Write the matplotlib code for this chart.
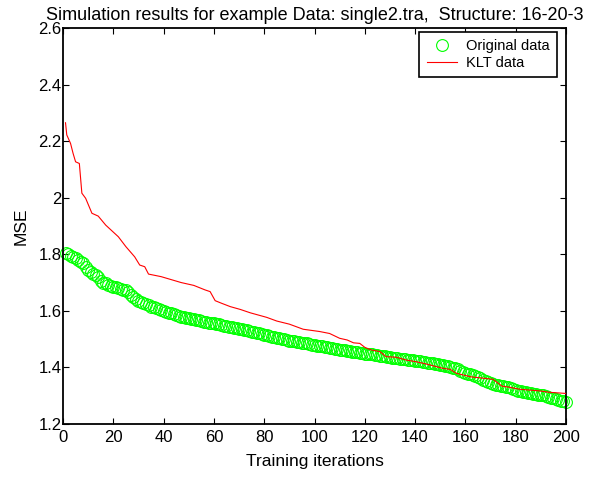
import matplotlib
matplotlib.use("Agg")
import matplotlib.pyplot as plt
import numpy as np

plt.rcParams['font.family'] = ['Liberation Sans', 'DejaVu Sans']

# Original data (green circles), iterations 1..200
original_mse = [
    1.803, 1.800, 1.795, 1.790, 1.786, 1.780, 1.774, 1.768, 1.756, 1.744,
    1.738, 1.732, 1.727, 1.718, 1.707, 1.700, 1.697, 1.693, 1.689, 1.686,
    1.684, 1.681, 1.678, 1.675, 1.672, 1.665, 1.657, 1.650, 1.642, 1.636,
    1.632, 1.628, 1.624, 1.619, 1.615, 1.612, 1.609, 1.606, 1.603, 1.600,
    1.597, 1.594, 1.591, 1.588, 1.585, 1.582, 1.580, 1.578, 1.576, 1.574,
    1.572, 1.570, 1.568, 1.566, 1.564, 1.562, 1.560, 1.558, 1.557, 1.556,
    1.554, 1.552, 1.550, 1.548, 1.546, 1.544, 1.542, 1.540, 1.538, 1.536,
    1.535, 1.533, 1.532, 1.530, 1.527, 1.525, 1.522, 1.520, 1.518, 1.515,
    1.513, 1.510, 1.508, 1.506, 1.504, 1.503, 1.501, 1.499, 1.497, 1.495,
    1.494, 1.492, 1.490, 1.489, 1.487, 1.486, 1.485, 1.484, 1.481, 1.479,
    1.477, 1.475, 1.474, 1.472, 1.471, 1.469, 1.468, 1.466, 1.465, 1.463,
    1.462, 1.460, 1.459, 1.457, 1.456, 1.454, 1.453, 1.451, 1.450, 1.449,
    1.448, 1.447, 1.446, 1.445, 1.443, 1.442, 1.440, 1.439, 1.437, 1.436,
    1.434, 1.433, 1.432, 1.431, 1.430, 1.429, 1.427, 1.426, 1.425, 1.424,
    1.422, 1.421, 1.420, 1.418, 1.417, 1.415, 1.414, 1.412, 1.411, 1.409,
    1.408, 1.406, 1.404, 1.401, 1.399, 1.397, 1.393, 1.389, 1.385, 1.381,
    1.378, 1.375, 1.373, 1.370, 1.366, 1.362, 1.357, 1.352, 1.347, 1.344,
    1.341, 1.339, 1.337, 1.335, 1.333, 1.332, 1.330, 1.327, 1.324, 1.321,
    1.318, 1.316, 1.314, 1.312, 1.310, 1.308, 1.306, 1.305, 1.304, 1.303,
    1.301, 1.298, 1.295, 1.293, 1.291, 1.288, 1.285, 1.283, 1.281, 1.279,
]
original_iter = list(range(1, 201))

# KLT data (red line), vertices
klt_iter = [1, 1.5, 3, 4, 5, 6.5, 7.5, 9, 11.5, 14, 17, 22, 25, 28.5, 30.5, 32.5,
            34, 39, 47, 52, 56.5, 58.5, 60.5, 63, 66.5, 70.5, 74.5, 81, 85, 90,
            95.5, 102, 106, 110, 113, 115.5, 118, 120, 122.5, 126, 128.5, 132.5,
            136.5, 140.5, 144.5, 147.5, 151, 154, 156.5, 162, 167, 171, 174.5,
            177.5, 181.5, 185.5, 189.5, 193.5, 200]
klt_mse = [2.265, 2.222, 2.192, 2.157, 2.127, 2.121, 2.016, 1.998, 1.945, 1.935,
           1.903, 1.862, 1.827, 1.791, 1.762, 1.756, 1.730, 1.721, 1.700, 1.690,
           1.674, 1.668, 1.636, 1.627, 1.615, 1.605, 1.593, 1.577, 1.564, 1.553,
           1.535, 1.527, 1.520, 1.503, 1.497, 1.487, 1.485, 1.471, 1.462, 1.456,
           1.438, 1.436, 1.426, 1.420, 1.412, 1.405, 1.397, 1.393, 1.379, 1.367,
           1.362, 1.358, 1.334, 1.330, 1.323, 1.320, 1.317, 1.312, 1.308]

x_ticks = [0, 20, 40, 60, 80, 100, 120, 140, 160, 180, 200]
y_ticks = [1.2, 1.4, 1.6, 1.8, 2.0, 2.2, 2.4, 2.6]
y_ticklabels = ['1.2', '1.4', '1.6', '1.8', '2', '2.2', '2.4', '2.6']

fig = plt.figure(figsize=(5.98, 4.78), dpi=100)
ax = fig.add_axes([63/598, 1 - 424/478, (566-63)/598, (424-28)/478])

ax.plot(original_iter, original_mse, linestyle='none', marker='o', markersize=8.5,
        markerfacecolor='none', markeredgecolor=(0, 1, 0), markeredgewidth=0.8,
        label='Original data', clip_on=False, zorder=2)
ax.plot(klt_iter, klt_mse, color=(1, 0, 0), linewidth=0.8, label='KLT data', zorder=3)

ax.set_xlim(0, 200)
ax.set_ylim(1.2, 2.6)
ax.set_xticks(x_ticks)
ax.set_xticklabels([str(t) for t in x_ticks])
ax.set_yticks(y_ticks)
ax.set_yticklabels(y_ticklabels)
ax.tick_params(direction='in', length=4, width=0.8, top=True, right=True,
               labelsize=12)
ax.tick_params(axis='x', pad=4)
ax.tick_params(axis='y', pad=1)
for s in ax.spines.values():
    s.set_linewidth(1.3)

ax.set_title('Simulation results for example Data: single2.tra,  Structure: 16-20-3',
             fontsize=13, pad=6)
ax.set_xlabel('Training iterations', fontsize=12.5, labelpad=7)
ax.set_ylabel('MSE', fontsize=12.5, labelpad=7)

leg = ax.legend(loc='upper right', bbox_to_anchor=((557-63)/503, (424-32)/396),
                borderaxespad=0, fancybox=False, edgecolor='black', framealpha=1,
                fontsize=10.5, handlelength=2.1, handletextpad=0.6, borderpad=0.5,
                labelspacing=0.2)
leg.get_frame().set_linewidth(1.2)

fig.savefig('out.png', dpi=100)
